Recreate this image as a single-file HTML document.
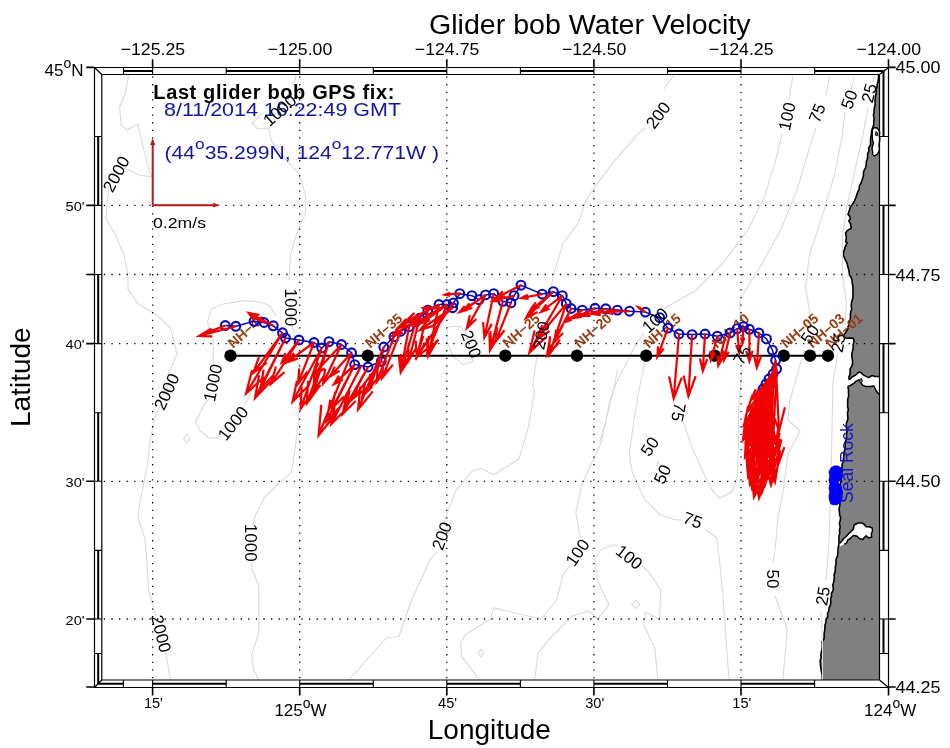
<!DOCTYPE html><html><head><meta charset="utf-8"><title>Glider bob Water Velocity</title>
<style>html,body{margin:0;padding:0;background:#fff;}svg{display:block;}text{font-family:"Liberation Sans", Arial, Helvetica, sans-serif;}</style></head><body>
<svg width="950" height="748" viewBox="0 0 950 748">
<rect x="0" y="0" width="950" height="748" fill="#fff"/>
<polygon points="878.6,74.5 878.6,77.2 878.1,80.4 877.4,83.7 877.0,86.9 875.9,89.6 876.2,92.5 875.7,95.3 875.3,98.1 874.9,101.0 875.3,103.9 874.6,106.8 874.1,109.7 874.1,112.6 873.4,115.4 874.2,118.4 873.7,121.3 873.8,124.2 872.9,127.0 871.7,130.4 871.5,134.0 870.7,137.7 870.5,141.5 870.6,144.8 868.7,147.8 868.9,151.1 867.7,153.6 867.6,156.4 867.3,159.1 866.3,161.9 866.2,164.9 865.6,167.8 864.1,170.4 863.4,172.9 863.5,175.7 862.6,178.2 861.9,180.7 860.9,183.2 859.3,186.4 859.2,189.3 857.8,191.8 856.9,194.5 855.8,197.7 854.5,200.9 852.0,204.9 850.3,207.1 849.6,209.7 848.0,214.5 849.6,216.1 850.4,218.6 848.8,221.0 850.4,223.4 851.2,228.2 847.2,230.6 845.6,233.0 846.4,237.8 845.6,241.8 847.2,242.7 845.6,245.9 844.0,250.7 843.2,254.7 844.8,258.7 846.0,261.1 847.2,263.5 847.8,266.8 848.8,269.9 849.6,274.8 850.8,277.2 852.0,279.6 852.2,282.8 852.9,286.0 853.0,289.2 852.9,292.4 853.0,296.0 852.5,299.6 851.5,302.8 851.2,306.0 851.7,309.3 850.7,311.8 850.4,314.4 850.5,317.0 850.2,319.6 849.3,322.1 848.5,325.4 847.8,328.8 846.1,331.8 844.5,334.0 843.7,336.6 846.1,338.2 849.7,338.1 853.3,338.2 854.1,341.4 853.1,344.5 853.2,347.8 852.5,351.0 851.8,354.2 852.0,357.5 852.5,360.7 852.6,363.7 851.7,366.4 850.1,369.0 850.1,371.9 849.9,374.6 848.8,377.2 849.3,380.0 847.7,386.4 848.5,389.6 848.5,392.8 848.7,396.0 847.7,399.2 847.7,402.4 847.6,406.2 848.3,410.0 847.5,412.9 847.7,415.6 847.9,418.3 847.4,420.9 846.3,423.5 846.4,426.2 846.7,428.9 847.0,431.6 846.5,434.3 846.5,437.0 846.3,439.7 844.9,442.3 845.1,445.0 845.2,448.3 844.2,451.4 844.0,454.6 843.5,457.8 843.4,461.1 842.1,464.2 841.9,467.5 842.2,470.2 841.2,472.8 841.7,475.6 841.0,478.2 841.0,480.9 840.3,483.5 840.5,486.2 839.3,488.8 839.4,491.5 840.1,494.2 839.1,496.9 839.5,499.6 839.9,502.8 839.7,506.0 839.0,509.2 839.5,512.4 839.6,515.0 840.6,517.5 840.3,520.2 839.3,523.4 840.2,526.8 839.5,530.0 839.7,533.4 838.8,536.6 839.0,540.0 838.9,543.8 838.2,547.5 838.0,550.4 837.9,553.2 837.4,556.0 836.3,558.7 835.9,561.4 836.1,564.1 835.3,566.7 835.4,569.4 835.0,572.1 834.0,574.7 834.4,577.4 834.0,580.1 833.5,582.7 832.7,585.3 833.3,588.2 832.9,590.8 831.4,593.3 831.6,596.1 830.6,599.0 830.8,602.1 830.4,605.1 829.0,608.0 828.8,611.0 827.5,613.6 827.8,616.7 826.0,619.2 826.0,622.2 825.0,624.9 824.9,627.8 824.7,630.7 824.1,633.5 824.2,636.4 823.9,639.2 822.1,641.8 822.3,644.7 822.2,648.5 821.3,652.1 820.8,654.9 821.2,657.8 820.1,660.5 820.4,663.4 820.7,667.1 821.3,670.8 822.1,674.5 822.3,678.3 822.5,680.0 879.5,680.0 879.5,74.5" fill="#808080" stroke="none"/>
<polyline points="878.6,74.5 878.6,77.2 878.1,80.4 877.4,83.7 877.0,86.9 875.9,89.6 876.2,92.5 875.7,95.3 875.3,98.1 874.9,101.0 875.3,103.9 874.6,106.8 874.1,109.7 874.1,112.6 873.4,115.4 874.2,118.4 873.7,121.3 873.8,124.2 872.9,127.0 871.7,130.4 871.5,134.0 870.7,137.7 870.5,141.5 870.6,144.8 868.7,147.8 868.9,151.1 867.7,153.6 867.6,156.4 867.3,159.1 866.3,161.9 866.2,164.9 865.6,167.8 864.1,170.4 863.4,172.9 863.5,175.7 862.6,178.2 861.9,180.7 860.9,183.2 859.3,186.4 859.2,189.3 857.8,191.8 856.9,194.5 855.8,197.7 854.5,200.9 852.0,204.9 850.3,207.1 849.6,209.7 848.0,214.5 849.6,216.1 850.4,218.6 848.8,221.0 850.4,223.4 851.2,228.2 847.2,230.6 845.6,233.0 846.4,237.8 845.6,241.8 847.2,242.7 845.6,245.9 844.0,250.7 843.2,254.7 844.8,258.7 846.0,261.1 847.2,263.5 847.8,266.8 848.8,269.9 849.6,274.8 850.8,277.2 852.0,279.6 852.2,282.8 852.9,286.0 853.0,289.2 852.9,292.4 853.0,296.0 852.5,299.6 851.5,302.8 851.2,306.0 851.7,309.3 850.7,311.8 850.4,314.4 850.5,317.0 850.2,319.6 849.3,322.1 848.5,325.4 847.8,328.8 846.1,331.8 844.5,334.0 843.7,336.6 846.1,338.2 849.7,338.1 853.3,338.2 854.1,341.4 853.1,344.5 853.2,347.8 852.5,351.0 851.8,354.2 852.0,357.5 852.5,360.7 852.6,363.7 851.7,366.4 850.1,369.0 850.1,371.9 849.9,374.6 848.8,377.2 849.3,380.0" fill="none" stroke="#000" stroke-width="1.6" stroke-linejoin="round"/>
<polyline points="847.7,386.4 848.5,389.6 848.5,392.8 848.7,396.0 847.7,399.2 847.7,402.4 847.6,406.2 848.3,410.0 847.5,412.9 847.7,415.6 847.9,418.3 847.4,420.9 846.3,423.5 846.4,426.2 846.7,428.9 847.0,431.6 846.5,434.3 846.5,437.0 846.3,439.7 844.9,442.3 845.1,445.0 845.2,448.3 844.2,451.4 844.0,454.6 843.5,457.8 843.4,461.1 842.1,464.2 841.9,467.5 842.2,470.2 841.2,472.8 841.7,475.6 841.0,478.2 841.0,480.9 840.3,483.5 840.5,486.2 839.3,488.8 839.4,491.5 840.1,494.2 839.1,496.9 839.5,499.6 839.9,502.8 839.7,506.0 839.0,509.2 839.5,512.4 839.6,515.0 840.6,517.5 840.3,520.2 839.3,523.4 840.2,526.8 839.5,530.0 839.7,533.4 838.8,536.6 839.0,540.0 838.9,543.8 838.2,547.5 838.0,550.4 837.9,553.2 837.4,556.0 836.3,558.7 835.9,561.4 836.1,564.1 835.3,566.7 835.4,569.4 835.0,572.1 834.0,574.7 834.4,577.4 834.0,580.1 833.5,582.7 832.7,585.3 833.3,588.2 832.9,590.8 831.4,593.3 831.6,596.1 830.6,599.0 830.8,602.1 830.4,605.1 829.0,608.0 828.8,611.0 827.5,613.6 827.8,616.7 826.0,619.2 826.0,622.2 825.0,624.9 824.9,627.8 824.7,630.7 824.1,633.5 824.2,636.4 823.9,639.2 822.1,641.8 822.3,644.7 822.2,648.5 821.3,652.1 820.8,654.9 821.2,657.8 820.1,660.5 820.4,663.4 820.7,667.1 821.3,670.8 822.1,674.5 822.3,678.3 822.5,680.0" fill="none" stroke="#000" stroke-width="1.6" stroke-linejoin="round"/>
<polygon points="872.8,129.0 874.5,127.5 877.0,128.0 879.4,131.0 879.7,133.4 879.2,135.8 879.8,138.1 879.7,140.5 879.3,142.9 879.0,145.2 879.3,147.6 879.4,150.0 878.6,152.1 877.5,154.0 874.5,156.0 872.5,154.5 872.7,151.7 872.0,149.0 872.5,145.9 873.5,143.0 872.6,140.8 872.4,138.4 872.2,136.0 872.3,133.7 872.2,131.3 872.8,129.0" fill="#fff" stroke="#000" stroke-width="1.4"/>
<polygon points="876,131.5 877.8,133 877,136 875.3,135" fill="#808080" stroke="#000" stroke-width="1"/>
<polygon points="849.3,380.0 852.0,377.0 855.7,375.1 859.7,371.9 863.7,375.1 868.6,377.6 872.0,375.5 875.0,376.5 879.4,376.5 879.4,394.5 877.5,392.5 874.0,386.0 870.0,386.4 865.3,386.4 862.1,384.8 858.9,380.0 854.1,383.2 850.5,385.5 847.7,386.4 845.0,383.0" fill="#fff" stroke="none"/>
<polyline points="849.3,380.0 852.0,377.0 855.7,375.1 857.5,373.2 859.7,371.9 861.8,373.4 863.7,375.1 866.1,376.4 868.6,377.6 872.0,375.5 875.0,376.5 879.4,376.5" fill="none" stroke="#000" stroke-width="1.5" stroke-linejoin="round"/>
<polyline points="879.4,394.5 877.5,392.5 875.9,390.5 875.0,388.2 874.0,386.0 870.0,386.4 865.3,386.4 862.1,384.8 860.9,382.1 858.9,380.0 856.2,381.1 854.1,383.2 850.5,385.5 847.7,386.4" fill="none" stroke="#000" stroke-width="1.5" stroke-linejoin="round"/>
<polygon points="858.9,380 861.5,378.5 862.5,381.5 860.5,383" fill="#808080" stroke="#000" stroke-width="1"/>
<polygon points="839.5,543.5 843.6,538.7 848.4,533.9 853.3,529.1 854.1,525.0 858.1,523.0 862.1,523.0 866.1,526.7 872.1,527.9 871.7,537.1 868.5,537.9 866.1,535.9 862.9,539.5 859.7,538.7 856.5,535.9 853.3,535.5 850.0,538.7 844.4,544.3 840.0,546.5" fill="#fff" stroke="none"/>
<polyline points="839.5,543.5 841.7,541.2 843.6,538.7 846.2,536.5 848.4,533.9 850.9,531.6 853.3,529.1 854.1,525.0 858.1,523.0 862.1,523.0 864.4,524.5 866.1,526.7 869.2,526.8 872.1,527.9 872.5,531.0 871.3,534.0 871.7,537.1 868.5,537.9 866.1,535.9 864.3,537.5 862.9,539.5 859.7,538.7 856.5,535.9 853.3,535.5 850.0,538.7 847.7,540.2 846.7,542.8 844.4,544.3" fill="none" stroke="#000" stroke-width="1.5" stroke-linejoin="round"/>
<polyline points="128.7,74.5 125.7,92.0 119.6,107.2 121.2,125.4 127.2,130.0 137.8,123.9 142.3,143.5 148.4,167.7 151.4,176.7 139.3,175.2 130.2,170.7 124.0,168.0" fill="none" stroke="#d9d9d9" stroke-width="1.1" stroke-linejoin="round"/>
<polyline points="109.0,186.0 107.6,197.9 106.0,219.0 115.1,234.2 124.2,255.3 128.0,275.0 128.0,289.4 138.2,304.0 155.9,314.4 170.6,327.6 177.0,354.0 170.6,368.8 168.0,375.0" fill="none" stroke="#d9d9d9" stroke-width="1.1" stroke-linejoin="round"/>
<polyline points="161.0,404.0 154.4,418.8 150.0,442.4 147.0,467.0 139.7,503.0 137.9,517.5 145.0,539.0 147.0,564.4 148.7,589.7 153.4,607.7 156.0,616.0" fill="none" stroke="#d9d9d9" stroke-width="1.1" stroke-linejoin="round"/>
<polyline points="165.0,651.0 166.8,658.3 170.4,680.0" fill="none" stroke="#d9d9d9" stroke-width="1.1" stroke-linejoin="round"/>
<polyline points="295.5,74.5 295.5,79.3 292.0,86.0" fill="none" stroke="#d9d9d9" stroke-width="1.1" stroke-linejoin="round"/>
<polyline points="262.0,114.0 258.7,116.8 252.0,123.5 257.4,128.8 268.8,128.8 271.4,140.8 283.5,156.9 298.2,172.9 299.5,176.7 305.5,194.9 305.5,213.0 296.4,234.2 290.4,255.3 288.9,280.0" fill="none" stroke="#d9d9d9" stroke-width="1.1" stroke-linejoin="round"/>
<polyline points="291.0,318.0 293.0,330.0 298.0,352.0 300.0,380.0 298.6,420.0 295.0,449.0 291.3,472.3 277.0,485.0 264.3,497.6 255.2,515.7 253.0,525.0" fill="none" stroke="#d9d9d9" stroke-width="1.1" stroke-linejoin="round"/>
<polyline points="252.0,561.0 251.6,568.0 258.8,586.0 258.8,633.0 251.6,654.7 253.4,669.0 258.8,680.0" fill="none" stroke="#d9d9d9" stroke-width="1.1" stroke-linejoin="round"/>
<polyline points="213.2,369.0 213.2,357.0 213.2,339.4 207.4,321.8 211.8,308.5 223.5,304.0 244.0,300.6 260.0,302.0 270.0,306.0 276.0,316.0" fill="none" stroke="#d9d9d9" stroke-width="1.1" stroke-linejoin="round"/>
<polyline points="210.0,398.0 204.4,404.0 195.6,421.8 200.0,430.6 208.8,438.0 217.6,438.0 220.0,436.0" fill="none" stroke="#d9d9d9" stroke-width="1.1" stroke-linejoin="round"/>
<polyline points="244.0,406.0 250.0,395.0 256.0,380.0" fill="none" stroke="#d9d9d9" stroke-width="1.1" stroke-linejoin="round"/>
<polyline points="447.0,327.0 459.8,326.2 466.3,334.2 472.7,361.4 463.0,364.7 453.4,356.6 447.0,342.2 447.0,327.0" fill="none" stroke="#d9d9d9" stroke-width="1.1" stroke-linejoin="round"/>
<polyline points="186.8,434.0 190.0,438.8 186.8,443.0 183.6,438.8 186.8,434.0" fill="none" stroke="#d9d9d9" stroke-width="1.1" stroke-linejoin="round"/>
<polyline points="674.6,74.5 668.0,83.0 664.0,89.0" fill="none" stroke="#d9d9d9" stroke-width="1.1" stroke-linejoin="round"/>
<polyline points="645.0,128.0 639.0,133.0 613.7,161.6 594.7,186.8 585.0,202.6 579.0,221.6 563.0,243.7 555.0,270.0 553.4,275.0 548.6,302.0 545.0,318.0" fill="none" stroke="#d9d9d9" stroke-width="1.1" stroke-linejoin="round"/>
<polyline points="537.4,353.4 532.6,385.5 534.7,390.0 528.4,427.4 519.0,459.0 493.7,474.7 481.0,468.4 471.6,471.6 455.8,490.5 446.3,515.8 444.0,522.0" fill="none" stroke="#d9d9d9" stroke-width="1.1" stroke-linejoin="round"/>
<polyline points="437.0,552.0 430.5,559.0 411.6,600.0 399.0,636.3 386.3,638.0 374.4,651.0 349.0,680.0" fill="none" stroke="#d9d9d9" stroke-width="1.1" stroke-linejoin="round"/>
<polyline points="793.0,74.5 789.0,100.0" fill="none" stroke="#d9d9d9" stroke-width="1.1" stroke-linejoin="round"/>
<polyline points="782.0,134.0 776.9,155.8 764.6,196.7 748.2,229.5 723.7,262.2 695.0,290.9 666.4,307.2 664.0,309.0" fill="none" stroke="#d9d9d9" stroke-width="1.1" stroke-linejoin="round"/>
<polyline points="643.8,333.0 634.2,347.4 626.2,363.4 616.5,382.7 610.0,400.0 601.0,443.0 582.0,484.0 575.8,512.6 580.5,538.0" fill="none" stroke="#d9d9d9" stroke-width="1.1" stroke-linejoin="round"/>
<polyline points="570.0,566.0 563.0,574.7 556.8,600.0 541.0,619.0 493.7,607.9 490.5,619.0 465.3,634.7 460.5,644.0 462.0,656.8 476.3,675.8 479.0,680.0" fill="none" stroke="#d9d9d9" stroke-width="1.1" stroke-linejoin="round"/>
<polyline points="534.7,680.0 537.9,653.7 547.4,641.0 572.6,615.8 588.4,611.0 597.9,619.0 609.0,604.7 597.9,581.0 594.7,559.0 601.0,549.5 613.7,544.7 617.0,546.0" fill="none" stroke="#d9d9d9" stroke-width="1.1" stroke-linejoin="round"/>
<polyline points="642.0,566.0 648.4,571.6 661.0,590.5 659.4,619.0 645.2,612.6 643.7,625.0 654.7,647.4 657.9,680.0" fill="none" stroke="#d9d9d9" stroke-width="1.1" stroke-linejoin="round"/>
<polyline points="635.8,600.5 640.0,604.7 635.8,608.5 631.6,604.7 635.8,600.5" fill="none" stroke="#d9d9d9" stroke-width="1.1" stroke-linejoin="round"/>
<polyline points="481.0,649.0 484.0,653.0 481.0,657.0 478.0,653.0 481.0,649.0" fill="none" stroke="#d9d9d9" stroke-width="1.1" stroke-linejoin="round"/>
<polyline points="830.0,74.5 826.0,95.0" fill="none" stroke="#d9d9d9" stroke-width="1.1" stroke-linejoin="round"/>
<polyline points="816.0,128.0 809.6,147.6 797.3,188.6 781.0,229.5 760.5,266.3 740.0,299.0 740.0,327.7 741.5,342.0" fill="none" stroke="#d9d9d9" stroke-width="1.1" stroke-linejoin="round"/>
<polyline points="742.0,368.0 741.0,380.0 738.5,408.0 738.5,446.2 737.2,476.7 732.0,492.0 719.4,498.3 711.8,489.4 701.7,469.0 691.5,446.2 683.9,423.4 681.0,420.0" fill="none" stroke="#d9d9d9" stroke-width="1.1" stroke-linejoin="round"/>
<polyline points="600.0,441.0 605.0,425.0 617.8,370.0" fill="none" stroke="#d9d9d9" stroke-width="1.1" stroke-linejoin="round"/>
<polyline points="646.0,350.0 643.2,370.0 638.0,395.4 634.0,420.0 629.2,453.7 632.4,473.0 645.3,500.2 659.7,514.6 674.1,519.4 682.2,520.2" fill="none" stroke="#d9d9d9" stroke-width="1.1" stroke-linejoin="round"/>
<polyline points="704.6,529.0 709.0,532.0 716.9,537.7 718.8,554.3 723.0,595.8 729.0,680.0" fill="none" stroke="#d9d9d9" stroke-width="1.1" stroke-linejoin="round"/>
<polyline points="854.6,74.5 851.0,90.0" fill="none" stroke="#d9d9d9" stroke-width="1.1" stroke-linejoin="round"/>
<polyline points="845.0,112.0 842.3,135.4 834.0,176.3 821.9,217.2 809.6,254.0 805.5,286.8 809.6,311.3 810.0,318.0" fill="none" stroke="#d9d9d9" stroke-width="1.1" stroke-linejoin="round"/>
<polyline points="804.0,350.0 801.4,360.4 790.0,400.0 788.0,420.0 800.0,431.0 788.0,453.9 783.0,492.0 777.9,517.4 775.3,548.0 773.0,562.0" fill="none" stroke="#d9d9d9" stroke-width="1.1" stroke-linejoin="round"/>
<polyline points="775.0,596.0 787.3,629.0 783.0,678.8 783.0,680.0" fill="none" stroke="#d9d9d9" stroke-width="1.1" stroke-linejoin="round"/>
<polyline points="645.5,434.0 648.0,437.5" fill="none" stroke="#d9d9d9" stroke-width="1.1" stroke-linejoin="round"/>
<polyline points="659.0,461.0 656.0,467.0" fill="none" stroke="#d9d9d9" stroke-width="1.1" stroke-linejoin="round"/>
<polyline points="875.0,74.5 873.0,82.0" fill="none" stroke="#d9d9d9" stroke-width="1.1" stroke-linejoin="round"/>
<polyline points="868.0,108.0 862.8,135.4 854.6,172.2 846.4,209.0 842.3,237.7 842.3,274.5 846.4,303.1 845.0,325.0" fill="none" stroke="#d9d9d9" stroke-width="1.1" stroke-linejoin="round"/>
<polyline points="838.0,352.0 836.0,365.0 833.0,380.0 831.0,479.6 828.8,546.0 826.0,580.0" fill="none" stroke="#d9d9d9" stroke-width="1.1" stroke-linejoin="round"/>
<polyline points="821.0,611.0 822.5,640.0 822.5,680.0" fill="none" stroke="#d9d9d9" stroke-width="1.1" stroke-linejoin="round"/>
<line x1="152.6" y1="76.5" x2="152.6" y2="680.0" stroke="#000" stroke-width="1.3" stroke-dasharray="1.3 6.3" stroke-dashoffset="0"/>
<line x1="299.7" y1="76.5" x2="299.7" y2="680.0" stroke="#000" stroke-width="1.3" stroke-dasharray="1.3 6.3" stroke-dashoffset="0"/>
<line x1="446.8" y1="76.5" x2="446.8" y2="680.0" stroke="#000" stroke-width="1.3" stroke-dasharray="1.3 6.3" stroke-dashoffset="0"/>
<line x1="593.9" y1="76.5" x2="593.9" y2="680.0" stroke="#000" stroke-width="1.3" stroke-dasharray="1.3 6.3" stroke-dashoffset="0"/>
<line x1="741.0" y1="76.5" x2="741.0" y2="680.0" stroke="#000" stroke-width="1.3" stroke-dasharray="1.3 6.3" stroke-dashoffset="0"/>
<line x1="103.8" y1="205.4" x2="879.5" y2="205.4" stroke="#000" stroke-width="1.3" stroke-dasharray="1.3 6.3"/>
<line x1="103.8" y1="274.5" x2="879.5" y2="274.5" stroke="#000" stroke-width="1.3" stroke-dasharray="1.3 6.3"/>
<line x1="103.8" y1="343.6" x2="879.5" y2="343.6" stroke="#000" stroke-width="1.3" stroke-dasharray="1.3 6.3"/>
<line x1="103.8" y1="481.3" x2="879.5" y2="481.3" stroke="#000" stroke-width="1.3" stroke-dasharray="1.3 6.3"/>
<line x1="103.8" y1="619.0" x2="879.5" y2="619.0" stroke="#000" stroke-width="1.3" stroke-dasharray="1.3 6.3"/>
<line x1="230.5" y1="355.7" x2="828" y2="355.7" stroke="#000" stroke-width="2"/>
<circle cx="230.5" cy="355.7" r="6.2" fill="#000"/>
<circle cx="367.8" cy="355.7" r="6.2" fill="#000"/>
<circle cx="505.3" cy="355.7" r="6.2" fill="#000"/>
<circle cx="577.0" cy="355.7" r="6.2" fill="#000"/>
<circle cx="646.2" cy="355.7" r="6.2" fill="#000"/>
<circle cx="714.6" cy="355.7" r="6.2" fill="#000"/>
<circle cx="783.8" cy="355.7" r="6.2" fill="#000"/>
<circle cx="810.0" cy="355.7" r="6.2" fill="#000"/>
<circle cx="828.0" cy="355.7" r="6.2" fill="#000"/>
<text x="0" y="0" transform="translate(233.0 348.7) rotate(-41)" font-size="14" font-weight="bold" fill="#963c0f">NH−45</text>
<text x="0" y="0" transform="translate(370.3 348.7) rotate(-41)" font-size="14" font-weight="bold" fill="#963c0f">NH−35</text>
<text x="0" y="0" transform="translate(507.8 348.7) rotate(-41)" font-size="14" font-weight="bold" fill="#963c0f">NH−25</text>
<text x="0" y="0" transform="translate(579.5 348.7) rotate(-41)" font-size="14" font-weight="bold" fill="#963c0f">NH−20</text>
<text x="0" y="0" transform="translate(648.7 348.7) rotate(-41)" font-size="14" font-weight="bold" fill="#963c0f">NH−15</text>
<text x="0" y="0" transform="translate(717.1 348.7) rotate(-41)" font-size="14" font-weight="bold" fill="#963c0f">NH−10</text>
<text x="0" y="0" transform="translate(786.3 348.7) rotate(-41)" font-size="14" font-weight="bold" fill="#963c0f">NH−05</text>
<text x="0" y="0" transform="translate(812.5 348.7) rotate(-41)" font-size="14" font-weight="bold" fill="#963c0f">NH−03</text>
<text x="0" y="0" transform="translate(830.5 348.7) rotate(-41)" font-size="14" font-weight="bold" fill="#963c0f">NH−01</text>
<g id="track">
<polyline points="225.3,325.5 235.8,326.3 254.0,321.3 264.0,322.5 273.3,325.8 282.5,332.8 285.5,338.0 299.0,340.0 314.0,342.5 321.7,348.0 329.0,341.7 341.5,344.5 351.6,352.8 354.7,364.6 368.0,367.0 381.3,361.3 383.8,347.0 393.9,336.8 400.8,331.2 409.0,326.7 415.8,321.7 419.7,318.1 427.8,310.1 439.0,304.5 447.0,304.5 452.6,307.7 453.4,302.9 459.8,293.7 471.9,295.7 479.0,299.7 485.5,294.9 493.7,293.7 502.9,301.3 510.9,302.9 514.1,295.7 521.0,285.2 542.2,294.1 553.4,291.7 562.3,295.7 566.3,303.7 571.1,308.5 582.3,310.1 595.0,308.3 605.8,308.8 617.4,310.1 629.5,311.2 645.4,312.1 659.8,317.7 667.9,328.1 679.0,334.0 692.1,334.6 705.0,334.0 717.3,336.2 730.1,333.0 737.1,328.7 743.5,326.6 749.4,329.3 759.0,333.0 766.5,338.9 772.4,350.1 775.6,360.3 776.6,368.8 773.0,374.0 769.0,379.0 766.0,384.0 763.0,389.0 761.0,394.0" fill="none" stroke="#0a0ab4" stroke-width="1.5" stroke-linejoin="round"/>
<circle cx="225.3" cy="325.5" r="4.4" fill="none" stroke="#0a0ab4" stroke-width="2.1"/>
<circle cx="235.8" cy="326.3" r="4.4" fill="none" stroke="#0a0ab4" stroke-width="2.1"/>
<circle cx="254.0" cy="321.3" r="4.4" fill="none" stroke="#0a0ab4" stroke-width="2.1"/>
<circle cx="264.0" cy="322.5" r="4.4" fill="none" stroke="#0a0ab4" stroke-width="2.1"/>
<circle cx="273.3" cy="325.8" r="4.4" fill="none" stroke="#0a0ab4" stroke-width="2.1"/>
<circle cx="282.5" cy="332.8" r="4.4" fill="none" stroke="#0a0ab4" stroke-width="2.1"/>
<circle cx="285.5" cy="338.0" r="4.4" fill="none" stroke="#0a0ab4" stroke-width="2.1"/>
<circle cx="299.0" cy="340.0" r="4.4" fill="none" stroke="#0a0ab4" stroke-width="2.1"/>
<circle cx="314.0" cy="342.5" r="4.4" fill="none" stroke="#0a0ab4" stroke-width="2.1"/>
<circle cx="321.7" cy="348.0" r="4.4" fill="none" stroke="#0a0ab4" stroke-width="2.1"/>
<circle cx="329.0" cy="341.7" r="4.4" fill="none" stroke="#0a0ab4" stroke-width="2.1"/>
<circle cx="341.5" cy="344.5" r="4.4" fill="none" stroke="#0a0ab4" stroke-width="2.1"/>
<circle cx="351.6" cy="352.8" r="4.4" fill="none" stroke="#0a0ab4" stroke-width="2.1"/>
<circle cx="354.7" cy="364.6" r="4.4" fill="none" stroke="#0a0ab4" stroke-width="2.1"/>
<circle cx="368.0" cy="367.0" r="4.4" fill="none" stroke="#0a0ab4" stroke-width="2.1"/>
<circle cx="381.3" cy="361.3" r="4.4" fill="none" stroke="#0a0ab4" stroke-width="2.1"/>
<circle cx="383.8" cy="347.0" r="4.4" fill="none" stroke="#0a0ab4" stroke-width="2.1"/>
<circle cx="393.9" cy="336.8" r="4.4" fill="none" stroke="#0a0ab4" stroke-width="2.1"/>
<circle cx="400.8" cy="331.2" r="4.4" fill="none" stroke="#0a0ab4" stroke-width="2.1"/>
<circle cx="409.0" cy="326.7" r="4.4" fill="none" stroke="#0a0ab4" stroke-width="2.1"/>
<circle cx="415.8" cy="321.7" r="4.4" fill="none" stroke="#0a0ab4" stroke-width="2.1"/>
<circle cx="419.7" cy="318.1" r="4.4" fill="none" stroke="#0a0ab4" stroke-width="2.1"/>
<circle cx="427.8" cy="310.1" r="4.4" fill="none" stroke="#0a0ab4" stroke-width="2.1"/>
<circle cx="439.0" cy="304.5" r="4.4" fill="none" stroke="#0a0ab4" stroke-width="2.1"/>
<circle cx="447.0" cy="304.5" r="4.4" fill="none" stroke="#0a0ab4" stroke-width="2.1"/>
<circle cx="452.6" cy="307.7" r="4.4" fill="none" stroke="#0a0ab4" stroke-width="2.1"/>
<circle cx="453.4" cy="302.9" r="4.4" fill="none" stroke="#0a0ab4" stroke-width="2.1"/>
<circle cx="459.8" cy="293.7" r="4.4" fill="none" stroke="#0a0ab4" stroke-width="2.1"/>
<circle cx="471.9" cy="295.7" r="4.4" fill="none" stroke="#0a0ab4" stroke-width="2.1"/>
<circle cx="479.0" cy="299.7" r="4.4" fill="none" stroke="#0a0ab4" stroke-width="2.1"/>
<circle cx="485.5" cy="294.9" r="4.4" fill="none" stroke="#0a0ab4" stroke-width="2.1"/>
<circle cx="493.7" cy="293.7" r="4.4" fill="none" stroke="#0a0ab4" stroke-width="2.1"/>
<circle cx="502.9" cy="301.3" r="4.4" fill="none" stroke="#0a0ab4" stroke-width="2.1"/>
<circle cx="510.9" cy="302.9" r="4.4" fill="none" stroke="#0a0ab4" stroke-width="2.1"/>
<circle cx="514.1" cy="295.7" r="4.4" fill="none" stroke="#0a0ab4" stroke-width="2.1"/>
<circle cx="521.0" cy="285.2" r="4.4" fill="none" stroke="#0a0ab4" stroke-width="2.1"/>
<circle cx="542.2" cy="294.1" r="4.4" fill="none" stroke="#0a0ab4" stroke-width="2.1"/>
<circle cx="553.4" cy="291.7" r="4.4" fill="none" stroke="#0a0ab4" stroke-width="2.1"/>
<circle cx="562.3" cy="295.7" r="4.4" fill="none" stroke="#0a0ab4" stroke-width="2.1"/>
<circle cx="566.3" cy="303.7" r="4.4" fill="none" stroke="#0a0ab4" stroke-width="2.1"/>
<circle cx="571.1" cy="308.5" r="4.4" fill="none" stroke="#0a0ab4" stroke-width="2.1"/>
<circle cx="582.3" cy="310.1" r="4.4" fill="none" stroke="#0a0ab4" stroke-width="2.1"/>
<circle cx="595.0" cy="308.3" r="4.4" fill="none" stroke="#0a0ab4" stroke-width="2.1"/>
<circle cx="605.8" cy="308.8" r="4.4" fill="none" stroke="#0a0ab4" stroke-width="2.1"/>
<circle cx="617.4" cy="310.1" r="4.4" fill="none" stroke="#0a0ab4" stroke-width="2.1"/>
<circle cx="629.5" cy="311.2" r="4.4" fill="none" stroke="#0a0ab4" stroke-width="2.1"/>
<circle cx="645.4" cy="312.1" r="4.4" fill="none" stroke="#0a0ab4" stroke-width="2.1"/>
<circle cx="659.8" cy="317.7" r="4.4" fill="none" stroke="#0a0ab4" stroke-width="2.1"/>
<circle cx="667.9" cy="328.1" r="4.4" fill="none" stroke="#0a0ab4" stroke-width="2.1"/>
<circle cx="679.0" cy="334.0" r="4.4" fill="none" stroke="#0a0ab4" stroke-width="2.1"/>
<circle cx="692.1" cy="334.6" r="4.4" fill="none" stroke="#0a0ab4" stroke-width="2.1"/>
<circle cx="705.0" cy="334.0" r="4.4" fill="none" stroke="#0a0ab4" stroke-width="2.1"/>
<circle cx="717.3" cy="336.2" r="4.4" fill="none" stroke="#0a0ab4" stroke-width="2.1"/>
<circle cx="730.1" cy="333.0" r="4.4" fill="none" stroke="#0a0ab4" stroke-width="2.1"/>
<circle cx="737.1" cy="328.7" r="4.4" fill="none" stroke="#0a0ab4" stroke-width="2.1"/>
<circle cx="743.5" cy="326.6" r="4.4" fill="none" stroke="#0a0ab4" stroke-width="2.1"/>
<circle cx="749.4" cy="329.3" r="4.4" fill="none" stroke="#0a0ab4" stroke-width="2.1"/>
<circle cx="759.0" cy="333.0" r="4.4" fill="none" stroke="#0a0ab4" stroke-width="2.1"/>
<circle cx="766.5" cy="338.9" r="4.4" fill="none" stroke="#0a0ab4" stroke-width="2.1"/>
<circle cx="772.4" cy="350.1" r="4.4" fill="none" stroke="#0a0ab4" stroke-width="2.1"/>
<circle cx="775.6" cy="360.3" r="4.4" fill="none" stroke="#0a0ab4" stroke-width="2.1"/>
<circle cx="776.6" cy="368.8" r="4.4" fill="none" stroke="#0a0ab4" stroke-width="2.1"/>
<circle cx="773.0" cy="374.0" r="4.4" fill="none" stroke="#0a0ab4" stroke-width="2.1"/>
<circle cx="769.0" cy="379.0" r="4.4" fill="none" stroke="#0a0ab4" stroke-width="2.1"/>
<circle cx="766.0" cy="384.0" r="4.4" fill="none" stroke="#0a0ab4" stroke-width="2.1"/>
<circle cx="763.0" cy="389.0" r="4.4" fill="none" stroke="#0a0ab4" stroke-width="2.1"/>
<circle cx="761.0" cy="394.0" r="4.4" fill="none" stroke="#0a0ab4" stroke-width="2.1"/>
</g>
<polygon points="769.0,376.0 775.0,368.0 774.0,392.0 773.0,430.0 771.0,455.0 764.0,462.0 754.0,455.0 747.0,438.0 749.0,416.0 756.0,398.0 763.0,386.0" fill="#f00000"/>
<path d="M235.8 326.3L199.0 336.0M210.2 329.2L199.0 336.0L212.1 336.4M225.3 325.5L206.0 333.0M211.6 328.6L206.0 333.0L213.1 332.4M273.3 325.8L249.0 313.0M258.3 314.8L249.0 313.0L255.8 319.6M264.0 322.5L251.0 316.0M255.9 316.9L251.0 316.0L254.6 319.4M282.5 332.8L246.1 393.5M252.1 369.9L246.1 393.5L264.1 377.1M285.5 338.0L255.0 398.0M259.1 375.2L255.0 398.0L271.0 381.2M282.5 332.8L253.3 373.0M259.0 356.8L253.3 373.0L266.9 362.6M285.5 338.0L260.4 389.0M263.6 369.7L260.4 389.0L273.7 374.7M299.0 340.0L271.0 383.7M275.9 366.5L271.0 383.7L284.6 372.1M299.0 340.0L281.9 362.2M285.3 353.2L281.9 362.2L289.7 356.6M314.0 342.5L287.2 362.2M294.1 353.0L287.2 362.2L298.0 358.4M321.7 348.0L292.6 401.6M296.9 381.0L292.6 401.6L307.5 386.8M321.7 348.0L300.7 408.7M301.6 386.6L300.7 408.7L313.6 390.7M329.0 341.7L306.9 403.3M308.1 380.8L306.9 403.3L320.3 385.2M329.0 341.7L314.0 390.8M314.1 373.1L314.0 390.8L323.8 376.1M314.0 342.5L298.0 383.7M299.2 368.5L298.0 383.7L307.4 371.7M341.5 344.5L312.0 376.0M318.6 362.7L312.0 376.0L324.9 368.5M341.5 344.5L323.0 383.7M325.2 368.9L323.0 383.7L333.0 372.6M351.6 352.8L330.2 376.5M334.9 366.6L330.2 376.5L339.6 370.8M351.6 352.8L318.6 435.5M321.3 404.9L318.6 435.5L337.7 411.5M354.7 364.6L326.6 421.2M330.3 399.7L326.6 421.2L341.5 405.3M354.7 364.6L332.0 408.7M335.1 391.9L332.0 408.7L343.9 396.4M368.0 367.0L342.7 414.0M346.4 396.0L342.7 414.0L355.7 401.0M368.0 367.0L346.3 405.0M349.7 390.3L346.3 405.0L357.2 394.6M381.3 361.3L353.4 398.0M359.0 383.1L353.4 398.0L366.2 388.7M381.3 361.3L362.4 396.2M365.2 382.8L362.4 396.2L372.1 386.6M383.8 347.0L369.5 389.0M370.1 373.7L369.5 389.0L378.4 376.6M393.9 336.8L376.7 381.9M377.9 365.3L376.7 381.9L386.8 368.7M400.8 331.2L382.0 378.3M383.5 360.9L382.0 378.3L392.9 364.6M354.7 364.6L334.0 384.1M338.9 375.6L334.0 384.1L342.8 379.7M361.0 366.0L331.3 424.2M335.3 402.1L331.3 424.2L346.9 407.9M383.8 347.0L358.1 409.5M360.4 386.3L358.1 409.5L372.8 391.4M409.0 326.7L400.7 372.2M398.9 356.4L400.7 372.2L407.9 358.0M415.8 321.7L400.9 372.1M400.8 354.0L400.9 372.1L410.8 356.9M419.7 318.1L408.8 360.2M408.2 345.2L408.8 360.2L416.6 347.4M427.8 310.1L416.8 357.5M415.7 340.8L416.8 357.5L425.1 342.9M439.0 304.5L428.2 356.2M426.6 338.1L428.2 356.2L436.9 340.2M447.0 304.5L427.0 354.2M428.7 335.8L427.0 354.2L438.5 339.8M452.6 307.7L434.2 324.1M438.6 316.9L434.2 324.1L441.9 320.5M442.0 308.7L422.1 322.8M427.3 316.2L422.1 322.8L430.1 320.1M460.9 293.4L444.9 294.7M450.1 292.7L444.9 294.7L450.3 295.9M442.2 308.7L423.5 308.0M429.7 306.4L423.5 308.0L429.6 310.1M479.0 299.7L459.6 312.0M464.8 306.0L459.6 312.0L467.2 309.9M485.5 294.9L463.6 310.7M469.3 303.3L463.6 310.7L472.4 307.7M453.4 302.9L416.5 357.4M423.3 335.8L416.5 357.4L434.1 343.1M485.5 294.9L466.9 328.1M469.8 315.3L466.9 328.1L476.3 319.0M439.0 304.5L405.0 322.0M414.5 312.9L405.0 322.0L418.0 319.6M447.0 304.5L412.0 325.0M421.5 314.8L412.0 325.0L425.6 321.7M452.6 307.7L420.0 330.0M428.6 319.4L420.0 330.0L433.0 325.9M427.8 310.1L398.0 328.0M406.1 319.1L398.0 328.0L409.6 325.0M419.7 318.1L392.0 336.0M399.4 327.4L392.0 336.0L402.9 332.8M502.9 301.3L491.0 347.5M490.4 331.1L491.0 347.5L499.5 333.4M553.4 291.7L529.8 311.2M535.7 302.4L529.8 311.2L539.5 307.1M566.3 303.7L549.2 354.7M549.8 336.2L549.2 354.7L559.9 339.6M571.1 308.5L554.0 342.6M556.3 329.7L554.0 342.6L563.0 333.0M493.7 293.7L484.4 337.4M483.1 322.1L484.4 337.4L491.8 323.9M502.9 301.3L490.0 350.2M489.4 332.8L490.0 350.2L499.1 335.3M510.9 302.9L495.7 341.4M496.9 327.2L495.7 341.4L504.5 330.2M521.0 285.2L495.7 298.0M502.8 291.3L495.7 298.0L505.3 296.3M514.1 295.7L493.0 301.0M499.4 297.2L493.0 301.0L500.5 301.3M542.2 294.1L521.3 298.0M527.8 294.6L521.3 298.0L528.6 298.8M553.4 291.7L526.0 318.0M532.4 306.6L526.0 318.0L537.6 312.0M562.3 295.7L529.4 352.6M534.6 330.6L529.4 352.6L545.9 337.1M566.3 303.7L536.0 340.0M542.4 325.0L536.0 340.0L549.6 331.0M571.1 308.5L547.0 355.0M550.3 337.3L547.0 355.0L559.6 342.0M582.3 310.1L565.0 322.0M569.5 316.4L565.0 322.0L571.9 319.8M595.0 308.3L574.0 318.0M580.0 312.7L574.0 318.0L581.9 316.9M605.8 308.8L582.0 316.0M589.1 311.3L582.0 316.0L590.6 316.0M617.4 310.1L592.0 314.0M600.0 310.2L592.0 314.0L600.8 315.2M629.5 311.2L605.0 312.0M613.0 309.3L605.0 312.0L613.2 314.2M562.3 295.7L541.0 312.0M546.4 304.5L541.0 312.0L549.6 308.7M645.4 312.1L638.0 307.0M640.9 308.0L638.0 307.0L639.9 309.4M667.9 328.1L657.4 357.0M658.0 346.4L657.4 357.0L663.7 348.5M679.0 334.0L673.7 398.4M669.1 376.6L673.7 398.4L681.8 377.7M692.1 334.6L688.4 396.1M683.5 375.4L688.4 396.1L695.7 376.2M705.0 334.0L702.8 371.0M699.9 358.6L702.8 371.0L707.2 359.0M725.3 336.7L718.3 365.6M717.7 355.4L718.3 365.6L723.5 356.8M737.1 328.7L739.2 352.8M736.1 345.1L739.2 352.8L740.9 344.6M743.5 326.6L742.4 343.0M741.1 337.5L742.4 343.0L744.4 337.7M749.4 329.3L749.4 361.3M746.2 350.7L749.4 361.3L752.6 350.7M759.0 333.0L756.8 367.8M754.1 356.1L756.8 367.8L761.0 356.5M730.1 333.0L724.0 360.0M723.3 350.5L724.0 360.0L728.7 351.7M717.3 336.2L711.0 360.0M710.7 351.5L711.0 360.0L715.4 352.8M776.6 368.8L754.0 497.0M748.8 452.5L754.0 497.0L774.1 456.9M773.0 374.0L759.0 498.0M751.3 455.7L759.0 498.0L775.9 458.5M769.0 379.0L748.0 476.0M745.3 441.9L748.0 476.0L764.5 446.1M766.0 384.0L765.0 485.0M755.3 451.6L765.0 485.0L775.3 451.8M763.0 389.0L775.0 482.0M761.8 452.5L775.0 482.0L780.2 450.1M775.6 360.3L779.0 431.0M770.9 408.0L779.0 431.0L784.9 407.3M771.0 376.0L743.0 440.0M745.9 416.1L743.0 440.0L758.6 421.7M776.6 368.8L745.0 457.0M746.7 424.8L745.0 457.0L764.2 431.0M773.0 374.0L770.0 470.0M761.5 438.0L770.0 470.0L780.5 438.6M769.0 379.0L752.0 488.0M746.8 450.3L752.0 488.0L768.4 453.7M766.0 384.0L762.0 492.0M752.6 456.0L762.0 492.0L774.0 456.8M763.0 389.0L757.0 480.0M750.0 449.4L757.0 480.0L768.0 450.6M775.6 360.3L749.0 465.0M747.4 427.8L749.0 465.0L768.1 433.1M771.0 376.0L744.0 425.0M748.1 406.2L744.0 425.0L757.8 411.5M776.6 368.8L747.0 412.0M752.5 394.8L747.0 412.0L761.0 400.7M773.0 374.0L751.0 400.0M755.7 389.2L751.0 400.0L760.8 393.6M769.0 379.0L773.0 460.0M763.7 433.7L773.0 460.0L779.7 432.9M766.0 384.0L776.0 445.0M766.7 425.9L776.0 445.0L778.7 423.9M763.0 389.0L768.0 476.0M757.7 447.8L768.0 476.0L775.0 446.8M775.6 360.3L760.0 470.0M754.3 432.3L760.0 470.0L776.0 435.3M771.0 376.0L756.0 493.0M749.4 452.9L756.0 493.0L772.5 455.9M776.6 368.8L771.0 485.0M761.3 446.1L771.0 485.0L784.4 447.2M773.0 374.0L746.0 450.0M747.4 422.2L746.0 450.0L762.4 427.6M769.0 379.0L774.0 470.0M763.3 440.5L774.0 470.0L781.4 439.5M766.0 384.0L750.0 484.0M745.4 449.4L750.0 484.0L765.2 452.6M763.0 389.0L765.0 478.0M755.5 448.8L765.0 478.0L773.2 448.4" fill="none" stroke="#f00000" stroke-width="2.2" stroke-linejoin="miter" stroke-linecap="butt"/>
<polygon points="831.0,468.0 834.0,466.0 838.0,466.0 841.0,468.0 842.3,472.0 842.0,478.0 839.0,481.0 838.0,483.0 841.0,486.0 842.3,492.0 842.0,499.0 840.0,503.0 836.0,505.0 831.0,504.0 829.5,500.0 829.0,496.0 830.0,492.0 829.0,488.0 830.0,484.0 829.0,480.0 830.0,476.0 829.0,472.0" fill="#0000ff" stroke="#0000ff" stroke-width="1" stroke-linejoin="round"/>
<text x="0" y="0" transform="translate(853.3 503) rotate(-90)" font-size="17.5" fill="#1414c8">Seal Rock</text>
<text x="153.3" y="98.5" font-size="20" font-weight="bold" fill="#000" textLength="241" lengthAdjust="spacing">Last glider bob GPS fix:</text>
<text x="164" y="115.5" font-size="18.5" fill="#1414a0" textLength="237" lengthAdjust="spacingAndGlyphs">8/11/2014 16:22:49 GMT</text>
<text x="164.5" y="158.7" font-size="19" fill="#1414a0" textLength="274.5" lengthAdjust="spacingAndGlyphs">(44<tspan font-size="15.5" dy="-10">o</tspan><tspan dy="10">35.299N, 124</tspan><tspan font-size="15.5" dy="-10">o</tspan><tspan dy="10">12.771W )</tspan></text>
<path d="M152.7 205.2V144M152.7 205.2H214" stroke="#bb1a1a" stroke-width="2" fill="none"/>
<path d="M152.7 138.3L155.3 145L150.1 145Z M219.8 205.2L213.2 207.6L213.2 202.8Z" fill="#bb1a1a"/>
<text x="153" y="227.6" font-size="15.5" fill="#000" textLength="53" lengthAdjust="spacingAndGlyphs">0.2m/s</text>
<text x="0" y="0" transform="translate(116.0 174.0) rotate(-62)" font-size="17" text-anchor="middle" dy="0.36em" fill="#000">2000</text>
<text x="0" y="0" transform="translate(279.5 110.0) rotate(-42)" font-size="17" text-anchor="middle" dy="0.36em" fill="#000">1000</text>
<text x="0" y="0" transform="translate(291.6 307.4) rotate(90)" font-size="17" text-anchor="middle" dy="0.36em" fill="#000">1000</text>
<text x="0" y="0" transform="translate(166.5 391.6) rotate(-65)" font-size="17" text-anchor="middle" dy="0.36em" fill="#000">2000</text>
<text x="0" y="0" transform="translate(212.6 382.7) rotate(-78)" font-size="17" text-anchor="middle" dy="0.36em" fill="#000">1000</text>
<text x="0" y="0" transform="translate(232.8 423.2) rotate(-52)" font-size="17" text-anchor="middle" dy="0.36em" fill="#000">1000</text>
<text x="0" y="0" transform="translate(251.6 542.7) rotate(90)" font-size="17" text-anchor="middle" dy="0.36em" fill="#000">1000</text>
<text x="0" y="0" transform="translate(161.4 633.7) rotate(76)" font-size="17" text-anchor="middle" dy="0.36em" fill="#000">2000</text>
<text x="0" y="0" transform="translate(658.0 115.0) rotate(-53)" font-size="17" text-anchor="middle" dy="0.36em" fill="#000">200</text>
<text x="0" y="0" transform="translate(786.7 116.4) rotate(-78)" font-size="17" text-anchor="middle" dy="0.36em" fill="#000">100</text>
<text x="0" y="0" transform="translate(816.8 113.0) rotate(-68)" font-size="17" text-anchor="middle" dy="0.36em" fill="#000">75</text>
<text x="0" y="0" transform="translate(849.0 99.3) rotate(-70)" font-size="17" text-anchor="middle" dy="0.36em" fill="#000">50</text>
<text x="0" y="0" transform="translate(868.8 93.1) rotate(-76)" font-size="17" text-anchor="middle" dy="0.36em" fill="#000">25</text>
<text x="0" y="0" transform="translate(471.5 344.1) rotate(68)" font-size="17" text-anchor="middle" dy="0.36em" fill="#000">200</text>
<text x="0" y="0" transform="translate(541.0 335.3) rotate(-78)" font-size="17" text-anchor="middle" dy="0.36em" fill="#000">200</text>
<text x="0" y="0" transform="translate(655.0 320.0) rotate(-42)" font-size="17" text-anchor="middle" dy="0.36em" fill="#000">100</text>
<text x="0" y="0" transform="translate(742.0 355.0) rotate(-60)" font-size="17" text-anchor="middle" dy="0.36em" fill="#000">75</text>
<text x="0" y="0" transform="translate(809.7 334.0) rotate(-55)" font-size="17" text-anchor="middle" dy="0.36em" fill="#000">50</text>
<text x="0" y="0" transform="translate(838.0 343.0) rotate(-80)" font-size="17" text-anchor="middle" dy="0.36em" fill="#000">25</text>
<text x="0" y="0" transform="translate(678.8 412.0) rotate(100)" font-size="17" text-anchor="middle" dy="0.36em" fill="#000">75</text>
<text x="0" y="0" transform="translate(649.6 446.2) rotate(-55)" font-size="17" text-anchor="middle" dy="0.36em" fill="#000">50</text>
<text x="0" y="0" transform="translate(662.3 474.2) rotate(-65)" font-size="17" text-anchor="middle" dy="0.36em" fill="#000">50</text>
<text x="0" y="0" transform="translate(692.8 520.0) rotate(20)" font-size="17" text-anchor="middle" dy="0.36em" fill="#000">75</text>
<text x="0" y="0" transform="translate(441.6 535.8) rotate(-70)" font-size="17" text-anchor="middle" dy="0.36em" fill="#000">200</text>
<text x="0" y="0" transform="translate(577.3 552.3) rotate(-55)" font-size="17" text-anchor="middle" dy="0.36em" fill="#000">100</text>
<text x="0" y="0" transform="translate(629.4 557.0) rotate(38)" font-size="17" text-anchor="middle" dy="0.36em" fill="#000">100</text>
<text x="0" y="0" transform="translate(773.5 579.0) rotate(90)" font-size="17" text-anchor="middle" dy="0.36em" fill="#000">50</text>
<text x="0" y="0" transform="translate(822.5 596.0) rotate(-80)" font-size="17" text-anchor="middle" dy="0.36em" fill="#000">25</text>
<path d="M94.5 67.5H888.5V687.5H94.5ZM101.8 74.5H879.5V680.0H101.8ZM94.5 67.5L101.8 74.5M888.5 67.5L879.5 74.5M94.5 687.5L101.8 680.0M888.5 687.5L879.5 680.0" fill="none" stroke="#000" stroke-width="1.2"/>
<path d="M123.5 71.0H152.6M226.2 71.0H299.7M373.3 71.0H446.8M520.4 71.0H593.9M667.5 71.0H741.0M814.6 71.0H883.5M98.2 683.8H123.4M152.6 683.8H226.2M299.7 683.8H373.3M446.8 683.8H520.4M593.9 683.8H667.5M741.0 683.8H814.6M883.5 71.0V136.5M883.5 205.4V274.5M883.5 343.6V412.7M883.5 481.3V550.4M883.5 619.0V653.5M98.2 136.5V205.4M98.2 274.5V343.6M98.2 412.7V481.3M98.2 550.4V619.0M98.2 653.5V683.8" fill="none" stroke="#000" stroke-width="2"/>
<path d="M123.5 67.5V74.5M152.6 67.5V74.5M226.2 67.5V74.5M299.7 67.5V74.5M373.3 67.5V74.5M446.8 67.5V74.5M520.4 67.5V74.5M593.9 67.5V74.5M667.5 67.5V74.5M741.0 67.5V74.5M814.6 67.5V74.5M123.4 680.0V687.5M152.6 680.0V687.5M226.2 680.0V687.5M299.7 680.0V687.5M373.3 680.0V687.5M446.8 680.0V687.5M520.4 680.0V687.5M593.9 680.0V687.5M667.5 680.0V687.5M741.0 680.0V687.5M814.6 680.0V687.5M879.5 136.5H888.5M879.5 205.4H888.5M879.5 274.5H888.5M879.5 343.6H888.5M879.5 412.7H888.5M879.5 481.3H888.5M879.5 550.4H888.5M879.5 619.0H888.5M879.5 653.5H888.5M94.5 136.5H101.8M94.5 205.4H101.8M94.5 274.5H101.8M94.5 343.6H101.8M94.5 412.7H101.8M94.5 481.3H101.8M94.5 550.4H101.8M94.5 619.0H101.8M94.5 653.5H101.8" fill="none" stroke="#000" stroke-width="1.1"/>
<path d="M152.6 59.3V67.5M152.6 687.5V695.5M299.7 59.3V67.5M299.7 687.5V695.5M446.8 59.3V67.5M446.8 687.5V695.5M593.9 59.3V67.5M593.9 687.5V695.5M741.0 59.3V67.5M741.0 687.5V695.5M888.5 59.3V67.5M888.5 687.5V695.5M86.2 67.4H94.5M888.5 67.4H895.7M86.2 205.4H94.5M888.5 205.4H895.7M86.2 274.5H94.5M888.5 274.5H895.7M86.2 343.6H94.5M888.5 343.6H895.7M86.2 481.3H94.5M888.5 481.3H895.7M86.2 619.0H94.5M888.5 619.0H895.7M86.2 687.0H94.5M888.5 687.0H895.7" fill="none" stroke="#000" stroke-width="1.6"/>
<text x="152.9" y="55.4" font-size="17" text-anchor="middle" fill="#000" textLength="64.5" lengthAdjust="spacingAndGlyphs">−125.25</text>
<text x="300.0" y="55.4" font-size="17" text-anchor="middle" fill="#000" textLength="64.5" lengthAdjust="spacingAndGlyphs">−125.00</text>
<text x="447.1" y="55.4" font-size="17" text-anchor="middle" fill="#000" textLength="64.5" lengthAdjust="spacingAndGlyphs">−124.75</text>
<text x="594.2" y="55.4" font-size="17" text-anchor="middle" fill="#000" textLength="64.5" lengthAdjust="spacingAndGlyphs">−124.50</text>
<text x="741.3" y="55.4" font-size="17" text-anchor="middle" fill="#000" textLength="64.5" lengthAdjust="spacingAndGlyphs">−124.25</text>
<text x="888.8" y="55.4" font-size="17" text-anchor="middle" fill="#000" textLength="64.5" lengthAdjust="spacingAndGlyphs">−124.00</text>
<text x="895.4" y="73.4" font-size="17" fill="#000" textLength="45" lengthAdjust="spacingAndGlyphs">45.00</text>
<text x="895.4" y="280.5" font-size="17" fill="#000" textLength="45" lengthAdjust="spacingAndGlyphs">44.75</text>
<text x="895.4" y="487.3" font-size="17" fill="#000" textLength="45" lengthAdjust="spacingAndGlyphs">44.50</text>
<text x="895.4" y="693.0" font-size="17" fill="#000" textLength="45" lengthAdjust="spacingAndGlyphs">44.25</text>
<text x="83.5" y="76.1" font-size="17" text-anchor="end" fill="#000">45<tspan font-size="14" dy="-8">o</tspan><tspan dy="8">N</tspan></text>
<text x="84.6" y="211.0" font-size="13.6" text-anchor="end" fill="#000" textLength="19" lengthAdjust="spacingAndGlyphs">50'</text>
<text x="84.6" y="349.2" font-size="13.6" text-anchor="end" fill="#000" textLength="19" lengthAdjust="spacingAndGlyphs">40'</text>
<text x="84.6" y="486.9" font-size="13.6" text-anchor="end" fill="#000" textLength="19" lengthAdjust="spacingAndGlyphs">30'</text>
<text x="84.6" y="624.6" font-size="13.6" text-anchor="end" fill="#000" textLength="19" lengthAdjust="spacingAndGlyphs">20'</text>
<text x="153.4" y="708.4" font-size="13.8" text-anchor="middle" fill="#000" textLength="19" lengthAdjust="spacingAndGlyphs">15'</text>
<text x="447.6" y="708.4" font-size="13.8" text-anchor="middle" fill="#000" textLength="19" lengthAdjust="spacingAndGlyphs">45'</text>
<text x="594.7" y="708.4" font-size="13.8" text-anchor="middle" fill="#000" textLength="19" lengthAdjust="spacingAndGlyphs">30'</text>
<text x="741.8" y="708.4" font-size="13.8" text-anchor="middle" fill="#000" textLength="19" lengthAdjust="spacingAndGlyphs">15'</text>
<text x="300.5" y="716" font-size="17" text-anchor="middle" fill="#000">125<tspan font-size="14" dy="-8.5">o</tspan><tspan dy="8.5">W</tspan></text>
<text x="890.2" y="716" font-size="17" text-anchor="middle" fill="#000">124<tspan font-size="14" dy="-8.5">o</tspan><tspan dy="8.5">W</tspan></text>
<text x="429" y="33.7" font-size="27" fill="#000" textLength="321.5" lengthAdjust="spacingAndGlyphs">Glider bob Water Velocity</text>
<text x="427.8" y="738.6" font-size="28" fill="#000" textLength="123" lengthAdjust="spacingAndGlyphs">Longitude</text>
<text x="0" y="0" transform="translate(29.9 427) rotate(-90)" font-size="28" fill="#000">Latitude</text>
</svg></body></html>
